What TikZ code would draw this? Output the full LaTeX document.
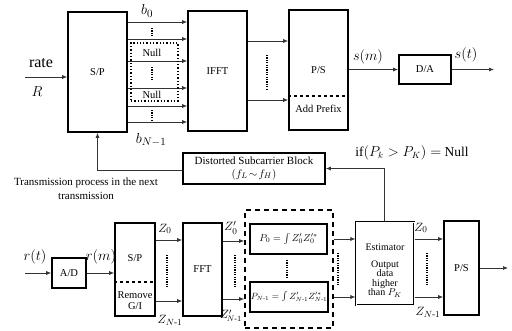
\documentclass[tikz,border=0pt]{standalone}
\usepackage{amsmath}
\usepackage{fontspec}
\setmainfont{Liberation Serif}
\usetikzlibrary{arrows.meta}
\begin{document}
\begin{tikzpicture}[x=1pt,y=-1pt,
  blk/.style={draw,line width=1.7pt,inner sep=0pt,font=\fontsize{10.5}{11}\selectfont},
  arr/.style={draw=black!80,line width=0.7pt,-{Latex[length=5pt,width=4pt]}},
  vdots/.style={line width=1.6pt,dash pattern=on 1.2pt off 1.2pt},
  lab/.style={font=\fontsize{15}{16}\selectfont,inner sep=0pt},
  mlab/.style={font=\fontsize{13}{14}\selectfont,inner sep=0pt},
  blab/.style={font=\fontsize{10.5}{11}\selectfont,inner sep=1pt},
  txt/.style={font=\fontsize{11}{14}\selectfont,inner sep=0pt,align=center}]
\useasboundingbox (0,0) rectangle (512,331);
% ---------- top row ----------
\node[blk,minimum width=59pt,minimum height=120pt] (sp1) at (97.5,72) {S/P};
\node[blk,minimum width=59pt,minimum height=120pt] (ifft) at (217.5,71) {IFFT};
\node[blk,minimum width=59pt,minimum height=120pt] (ps1) at (318.5,70) {};
\node[blab] (pslab) at (318.5,70) {P/S};
\node[blab] (addp) at (318.5,109) {Add Prefix};
\draw[line width=1.2pt,dashed] (ps1.west |- 0,96) -- (ps1.east |- 0,96);
\node[blk,minimum width=52pt,minimum height=29pt] (da) at (425,69.5) {D/A};
\foreach \yy in {22,39,61,88,106,122}
  \draw[arr] (sp1.east |- 0,\yy) -- (ifft.west |- 0,\yy);
\node[draw,line width=1.3pt,dotted,minimum width=47pt,minimum height=58pt] (nullbox) at (154.5,72) {};
\node[blab,fill=white] (null1) at (152,53) {Null};
\node[blab,fill=white] (null2) at (152,95) {Null};
\draw[vdots] (152,28) -- (152,37);
\draw[vdots] (152,67) -- (152,80);
\draw[vdots] (152,110) -- (152,120);
\node[lab] (b0) at (147,11) {$b_0$};
\node[lab] (bn) at (151,140) {$b_{N-1}$};
\node[font=\fontsize{16}{17}\selectfont,inner sep=0pt] (rate) at (41,63) {rate};
\node[lab] (R) at (37,92) {$R$};
\coordinate (rin) at (25,77);
\draw[arr] (rin) -- (sp1.west |- rin);
\draw[arr] (ifft.east |- 0,41) -- (ps1.west |- 0,41);
\draw[arr] (ifft.east |- 0,100) -- (ps1.west |- 0,100);
\draw[vdots] (267,55) -- (267,90);
\draw[arr] (ps1.east |- da.west) -- (da.west);
\node[lab] (sm) at (368,57) {$s(m)$};
\coordinate (sout) at (494,69.5);
\draw[arr] (da.east) -- (sout);
\node[lab] (st) at (466,55) {$s(t)$};
% ---------- feedback ----------
\node[blk,minimum width=142pt,minimum height=31pt,font=\fontsize{11}{12.5}\selectfont,align=center] (dist) at (254,168.5) {Distorted Subcarrier Block\\$(f_L\!\sim\! f_H)$};
\coordinate (fbc) at (97.5,170);
\draw[arr] (dist.west |- fbc) -- (fbc) -- (sp1.south);
\node[txt] (trans) at (86,189) {Transmission process in the next\\transmission};
\node[font=\fontsize{13.5}{14}\selectfont,inner sep=0pt] (iflab) at (412,153) {if$(P_k>P_K)=$ Null};
% ---------- bottom row ----------
\node[blk,minimum width=34pt,minimum height=30pt] (ad) at (69,273) {A/D};
\coordinate (rtin) at (25,273);
\draw[arr] (rtin) -- (ad.west);
\node[lab] (rt) at (35,257) {$r(t)$};
\node[blk,minimum width=40pt,minimum height=93pt] (sp2) at (135,269.5) {};
\node[blab] (sp2lab) at (135,258) {S/P};
\node[blab,align=center] (rem) at (135,301) {Remove\\G/I};
\draw[line width=1.2pt,dashed] (sp2.west |- 0,282) -- (sp2.east |- 0,282);
\draw[arr] (ad.east) -- (sp2.west |- ad.east);
\node[lab] (rm) at (101,257) {$r(m)$};
\node[blk,minimum width=39pt,minimum height=93pt] (fft) at (202.5,269.5) {FFT};
\draw[arr] (sp2.east |- 0,240) -- (fft.west |- 0,240);
\draw[arr] (sp2.east |- 0,301) -- (fft.west |- 0,301);
\node[mlab] (z0) at (165,229) {$Z_0$};
\node[mlab] (zn) at (170,320) {$Z_{N\text{-}1}$};
\draw[vdots] (167,255) -- (167,288);
\node[draw,line width=1.6pt,dash pattern=on 5pt off 4pt,minimum width=88pt,minimum height=118pt] (grp) at (289,269) {};
\draw[arr] (fft.east |- 0,241) -- (grp.west |- 0,241);
\draw[arr] (fft.east |- 0,299) -- (grp.west |- 0,299);
\node[mlab] (zp0) at (231,228) {$Z'_0$};
\node[font=\fontsize{12}{13}\selectfont,inner sep=0pt] (zpn) at (231,316) {$Z'_{\!N\text{-}1}$};
\draw[vdots] (235,255) -- (235,288);
\node[blk,minimum width=77pt,minimum height=30pt,font=\fontsize{10}{11}\selectfont] (p0) at (288.5,239) {$P_0=\int Z'_0Z'^{*}_0$};
\node[blk,minimum width=78pt,minimum height=30pt,font=\fontsize{9}{10}\selectfont] (pn) at (289,297) {$P_{N\text{-}1}=\int Z'_{N\text{-}1}Z'^{*}_{N\text{-}1}$};
\draw[vdots] (287,260) -- (287,278);
\node[draw,line width=1.1pt,double=white,double distance=0.6pt,minimum width=58pt,minimum height=83pt,inner sep=0pt] (est) at (385,263.5) {};
\node[font=\fontsize{10}{11}\selectfont,inner sep=0pt] (estlab) at (385,247) {Estimator};
\node[font=\fontsize{10}{9.4}\selectfont,align=center,inner sep=0pt] (outlab) at (385,279) {Output\\data\\higher\\than $P_K$};
\draw[arr] (grp.east |- 0,239) -- (est.west |- 0,239);
\draw[arr] (grp.east |- 0,297) -- (est.west |- 0,297);
\draw[vdots] (338,253) -- (338,285);
\coordinate (estup) at (384,168.5);
\draw[arr] (est.north -| estup) -- (estup) -- (dist.east);
\node[blk,minimum width=35pt,minimum height=94pt] (ps2) at (461.5,268) {P/S};
\draw[arr] (est.east |- 0,239) -- (ps2.west |- 0,239);
\draw[arr] (est.east |- 0,297) -- (ps2.west |- 0,297);
\node[mlab] (zz0) at (421,228) {$Z_0$};
\node[mlab] (zzn) at (428,312) {$Z_{N\text{-}1}$};
\draw[vdots] (427,253) -- (427,285);
\coordinate (pout) at (508,268);
\draw[arr] (ps2.east) -- (pout);
\end{tikzpicture}
\end{document}
